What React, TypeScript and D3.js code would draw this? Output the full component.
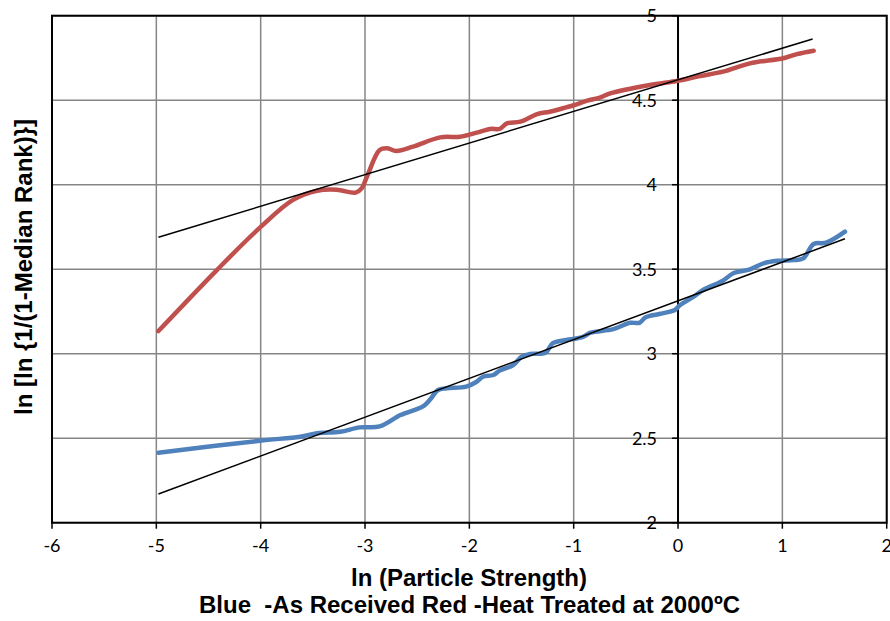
import React from "react";
import * as d3 from "d3";

const W = 890;
const H = 621;

const xTicks = [-6, -5, -4, -3, -2, -1, 0, 1, 2];
const yTicks = [2, 2.5, 3, 3.5, 4, 4.5, 5];

const redX = [-4.98, -4.42, -4.0, -3.69, -3.46, -3.27, -3.09, -3.03, -2.98, -2.86, -2.79, -2.7, -2.54, -2.28, -2.09, -1.93, -1.8, -1.71, -1.64, -1.51, -1.35, -1.23, -1.07, -1.0, -0.87, -0.75, -0.65, -0.27, 0.0, 0.21, 0.43, 0.69, 1.01, 1.14, 1.3];
const redY = [3.134, 3.495, 3.75, 3.91, 3.964, 3.97, 3.953, 3.98, 4.05, 4.205, 4.215, 4.2, 4.225, 4.28, 4.284, 4.308, 4.33, 4.33, 4.363, 4.373, 4.418, 4.432, 4.458, 4.47, 4.497, 4.515, 4.54, 4.59, 4.615, 4.643, 4.669, 4.718, 4.748, 4.773, 4.793];

const blueX = [-4.98, -4.01, -3.62, -3.46, -3.24, -3.05, -2.86, -2.66, -2.44, -2.38, -2.3, -2.22, -2.03, -1.93, -1.87, -1.77, -1.71, -1.58, -1.5, -1.42, -1.27, -1.2, -1.07, -0.91, -0.84, -0.62, -0.46, -0.37, -0.31, -0.18, -0.03, 0.02, 0.15, 0.24, 0.43, 0.53, 0.69, 0.82, 0.95, 1.11, 1.2, 1.3, 1.42, 1.6];
const blueY = [2.414, 2.485, 2.509, 2.529, 2.538, 2.564, 2.57, 2.637, 2.69, 2.726, 2.785, 2.795, 2.805, 2.834, 2.864, 2.874, 2.9, 2.933, 2.982, 2.998, 3.006, 3.062, 3.081, 3.1, 3.124, 3.145, 3.183, 3.183, 3.215, 3.235, 3.259, 3.288, 3.337, 3.377, 3.432, 3.476, 3.499, 3.535, 3.55, 3.554, 3.564, 3.649, 3.657, 3.722];

const redFitX = [-4.98, 1.29];
const redFitY = [3.689, 4.862];
const blueFitX = [-4.98, 1.6];
const blueFitY = [2.17, 3.68];

const xTitle = "ln (Particle Strength)";
const subTitle = "Blue  -As Received Red -Heat Treated at 2000ºC";
const yTitle = "ln [ln {1/(1-Median Rank)}]";

export default function App() {
  const x = d3.scaleLinear().domain([-6, 2]).range([52, 886.7]);
  const y = d3.scaleLinear().domain([2, 5]).range([522.7, 15.7]);

  const smooth = d3
    .line<[number, number]>()
    .x((d) => x(d[0]))
    .y((d) => y(d[1]))
    .curve(d3.curveCatmullRom.alpha(0.5));
  const straight = d3
    .line<[number, number]>()
    .x((d) => x(d[0]))
    .y((d) => y(d[1]));

  const zip = (a: number[], b: number[]) => a.map((v, i) => [v, b[i]] as [number, number]);

  const tickFont = "Lato, 'Open Sans', sans-serif";
  const titleFont = "'Liberation Sans', Arial, sans-serif";

  return (
    <div style={{ position: "absolute", left: 0, top: 0 }}>
      <svg width={W} height={H} style={{ display: "block", background: "#fff" }}>
        {/* grid */}
        {xTicks.map((t) => (
          <line key={"gx" + t} x1={x(t)} x2={x(t)} y1={y(5)} y2={y(2)} stroke="#868686" strokeWidth={1.5} />
        ))}
        {yTicks.map((t) => (
          <line key={"gy" + t} x1={x(-6)} x2={x(2)} y1={y(t)} y2={y(t)} stroke="#868686" strokeWidth={1.5} />
        ))}
        {/* border */}
        <rect x={x(-6)} y={y(5)} width={x(2) - x(-6)} height={y(2) - y(5)} fill="none" stroke="#000" strokeWidth={2} />
        {/* y axis at x=0 */}
        <line x1={x(0)} x2={x(0)} y1={y(5)} y2={y(2)} stroke="#000" strokeWidth={2} />
        {yTicks.map((t) => (
          <g key={"yt" + t}>
            <line x1={x(0) - 6} x2={x(0)} y1={y(t)} y2={y(t)} stroke="#000" strokeWidth={1.5} />
            <text x={x(0) - 21} y={y(t)} dy="0.35em" textAnchor="end" fontFamily={tickFont} fontSize={18} fill="#000">
              {t}
            </text>
          </g>
        ))}
        {/* x axis ticks */}
        {xTicks.map((t) => (
          <g key={"xt" + t}>
            <line x1={x(t)} x2={x(t)} y1={y(2)} y2={y(2) + 6} stroke="#000" strokeWidth={1.5} />
            <text x={x(t)} y={y(2) + 23} dy="0.35em" textAnchor="middle" fontFamily={tickFont} fontSize={18} fill="#000">
              {t}
            </text>
          </g>
        ))}
        {/* data */}
        <path d={smooth(zip(redX, redY)) || ""} fill="none" stroke="#C0504D" strokeWidth={4.5} strokeLinecap="round" strokeLinejoin="round" />
        <path d={smooth(zip(blueX, blueY)) || ""} fill="none" stroke="#4F81BD" strokeWidth={4.5} strokeLinecap="round" strokeLinejoin="round" />
        <path d={straight(zip(redFitX, redFitY)) || ""} fill="none" stroke="#000" strokeWidth={1.5} />
        <path d={straight(zip(blueFitX, blueFitY)) || ""} fill="none" stroke="#000" strokeWidth={1.5} />
        {/* titles */}
        <text x={469} y={578} dy="0.35em" textAnchor="middle" fontFamily={titleFont} fontWeight="bold" fontSize={24} fill="#000">
          {xTitle}
        </text>
        <text x={469.5} y={605} dy="0.35em" textAnchor="middle" fontFamily={titleFont} fontWeight="bold" fontSize={24} fill="#000" style={{ whiteSpace: "pre" }}>
          {subTitle}
        </text>
        <text
          transform={`translate(24,267) rotate(-90)`}
          dy="0.35em"
          textAnchor="middle"
          fontFamily={titleFont}
          fontWeight="bold"
          fontSize={24}
          fill="#000"
        >
          {yTitle}
        </text>
      </svg>
    </div>
  );
}
